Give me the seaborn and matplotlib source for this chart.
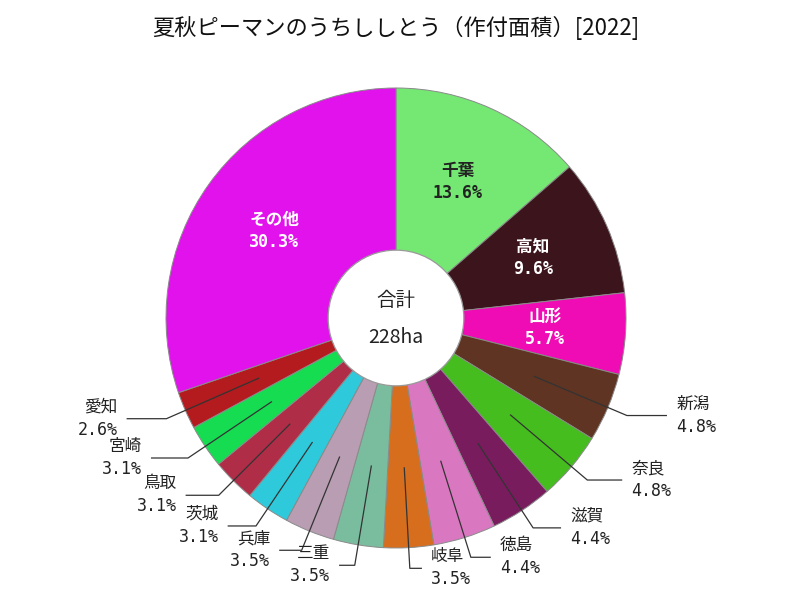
import numpy as np
import matplotlib
matplotlib.use("Agg")
import matplotlib.pyplot as plt
import seaborn as sns
from matplotlib.patches import Circle

sns.set_theme(style="white")
plt.rcParams['font.family'] = ['Noto Sans CJK JP', 'DejaVu Sans']

title = "夏秋ピーマンのうちししとう（作付面積）[2022]"
categories = ["千葉", "高知", "山形", "新潟", "奈良", "滋賀", "徳島", "岐阜",
              "三重", "兵庫", "茨城", "鳥取", "宮崎", "愛知", "その他"]
values = [31, 22, 13, 11, 11, 10, 10, 8, 8, 8, 7, 7, 7, 6, 69]
colors = ["#74E873", "#3C151C", "#F00CB4", "#5F3422", "#45BD1E", "#781C5E",
          "#DA77C1", "#D66E1E", "#7ABD9E", "#B89DB3", "#2ECADB", "#B02D47",
          "#16DC52", "#B31B1E", "#E112EC"]
inside = ["千葉", "高知", "山形", "その他"]
total_label = "合計"
unit = "ha"

total = sum(values)
mono = ['DejaVu Sans Mono']

fig = plt.figure(figsize=(8, 6), dpi=100)
ax = fig.add_axes([0, 0, 1, 1])
wedges, _ = ax.pie(values, colors=colors, startangle=90, counterclock=False,
                   radius=1.0,
                   wedgeprops=dict(edgecolor="#8a8a8a", linewidth=0.7))
ax.add_patch(Circle((0, 0), 0.295, facecolor="white", edgecolor="#9a9a9a",
                    linewidth=0.9, zorder=5))
ax.text(0, 0.075, total_label, ha="center", va="center", fontsize=14,
        color="#222222", zorder=6)
ax.text(0, -0.085, f"{total}{unit}", ha="center", va="center", fontsize=14,
        color="#222222", zorder=6)

for w, cat, v in zip(wedges, categories, values):
    ang = np.deg2rad((w.theta1 + w.theta2) / 2)
    c, s = np.cos(ang), np.sin(ang)
    pct = f"{v / total * 100:.1f}%"
    if cat in inside:
        tc = "#222222" if cat == "千葉" else "white"
        ax.text(0.65 * c, 0.65 * s + 0.048, cat, ha="center", va="center",
                fontsize=12, color=tc, fontweight="bold", zorder=6)
        ax.text(0.65 * c, 0.65 * s - 0.048, pct, ha="center", va="center",
                fontsize=12, color=tc, fontweight="bold", zorder=6,
                family=mono)
    else:
        x0, y0 = 0.65 * c, 0.65 * s
        x1, y1 = 1.09 * c, 1.09 * s
        sgn = 1 if c >= 0 else -1
        x2 = x1 + sgn * (0.045 + 0.14 * abs(c))
        ax.plot([x0, x1, x2], [y0, y1, y1], color="#333333", linewidth=0.9,
                zorder=6, solid_capstyle="butt")
        ha = "left" if sgn > 0 else "right"
        xt = x2 + sgn * 0.04
        ax.text(xt, y1 + 0.05, cat, ha=ha, va="center", fontsize=12,
                color="#222222", zorder=7)
        ax.text(xt, y1 - 0.048, pct, ha=ha, va="center", fontsize=12,
                color="#222222", zorder=7, family=mono)

ax.set_aspect("auto")
ax.set_xlim(-396 / 230, (800 - 396) / 230)
ax.set_ylim(-282 / 230, (600 - 282) / 230)
ax.axis("off")

fig.text(0.495, 0.953, title, ha="center", va="center", fontsize=16,
         color="#111111")

fig.savefig("out.png", dpi=100, facecolor="white")
